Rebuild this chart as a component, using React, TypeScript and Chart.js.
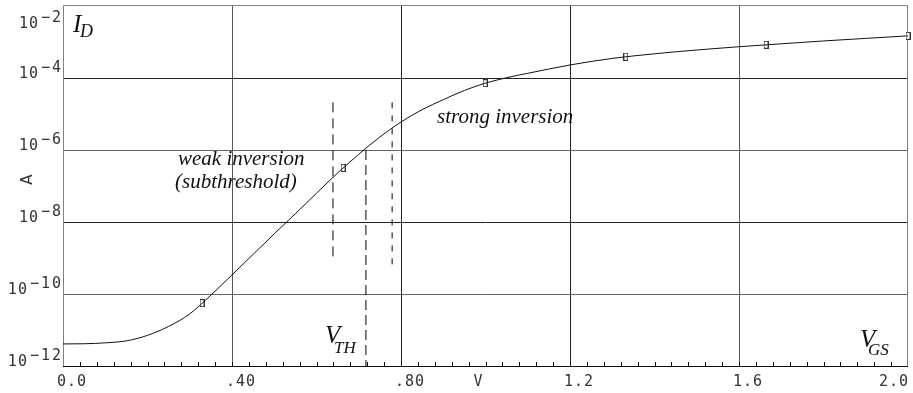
import React, { useEffect, useRef } from "react";
import Chart from "chart.js/auto";

// ---- data ----
const curveX = [0, 0.05, 0.1, 0.15, 0.2, 0.25, 0.3, 0.35, 0.4, 0.45, 0.5, 0.55, 0.6, 0.65, 0.7, 0.75, 0.8, 0.85, 0.9, 0.95, 1.0, 1.05, 1.1, 1.2, 1.3, 1.4, 1.5, 1.6, 1.7, 1.8, 1.9, 2.0];
const curveY = [4.1e-12, 4.15e-12, 4.4e-12, 5.0e-12, 7.1e-12, 1.26e-11, 2.8e-11, 9.3e-11, 3.4e-10, 1.26e-9, 4.7e-9, 1.7e-8, 6.3e-8, 2.3e-7, 7.6e-7, 2.3e-6, 6.0e-6, 1.32e-5, 2.5e-5, 4.5e-5, 7.2e-5, 1.02e-4, 1.35e-4, 2.3e-4, 3.5e-4, 4.7e-4, 6.0e-4, 7.4e-4, 8.9e-4, 1.07e-3, 1.26e-3, 1.48e-3];

const markerX = [0.329, 0.663, 0.999, 1.332, 1.664, 2.0];
const markerY = [5.6e-11, 3.2e-7, 7.2e-5, 3.9e-4, 8.4e-4, 1.48e-3];

const dashX = [0.639, 0.717, 0.779];
const dashTop = [2.1e-5, 1e-6, 2.1e-5];
const dashBottom = [7.8e-10, 1e-12, 5.2e-10];

const xGridValues = [0.4, 0.8, 1.2, 1.6];
const xLabelValues = [0, 0.4, 0.8, 1.0, 1.2, 1.6, 2.0];
const xLabels = ["0.0", ".40", ".80", "V", "1.2", "1.6", "2.0"];

const yGridValues = [1e-10, 1e-8, 1e-6, 1e-4];
const yLabelValues = [1e-12, 1e-10, 1e-8, 1e-6, 1e-4, 1e-2];
const yLabelExp = ["\u221212", "\u221210", "\u22128", "\u22126", "\u22124", "\u22122"];

const X_MIN = 0;
const X_MAX = 2.0;
const Y_MIN = 1e-12;
const Y_MAX = 1e-2;
const MINOR_STEP = 0.04;

function makeMarker(): HTMLCanvasElement {
  const c = document.createElement("canvas");
  c.width = 5;
  c.height = 8;
  const g = c.getContext("2d")!;
  g.fillStyle = "#fff";
  g.fillRect(0, 0, 5, 8);
  g.strokeStyle = "#333";
  g.lineWidth = 1;
  g.strokeRect(0.5, 0.5, 4, 7);
  return c;
}

const decorPlugin = {
  id: "decor",
  beforeDatasetsDraw(chart: any) {
    const { ctx, chartArea, scales } = chart;
    const { left, right, top, bottom } = chartArea;
    const xs = scales.x;
    const ys = scales.y;
    ctx.save();
    ctx.lineWidth = 1;
    xGridValues.forEach((v, i) => {
      const px = Math.round(xs.getPixelForValue(v)) + 0.5;
      ctx.strokeStyle = i % 3 === 0 ? "#555" : "#222";
      ctx.beginPath();
      ctx.moveTo(px, top);
      ctx.lineTo(px, bottom);
      ctx.stroke();
    });
    yGridValues.forEach((v, i) => {
      const py = Math.round(ys.getPixelForValue(v)) + 0.5;
      ctx.strokeStyle = i % 2 === 0 ? "#666" : "#222";
      ctx.beginPath();
      ctx.moveTo(left, py);
      ctx.lineTo(right, py);
      ctx.stroke();
    });
    ctx.strokeStyle = "#808080";
    ctx.beginPath();
    ctx.moveTo(Math.round(left) + 0.5, Math.round(bottom));
    ctx.lineTo(Math.round(left) + 0.5, Math.round(top) - 0.5);
    ctx.lineTo(Math.round(right) - 0.5, Math.round(top) - 0.5);
    ctx.lineTo(Math.round(right) - 0.5, Math.round(bottom));
    ctx.stroke();
    ctx.strokeStyle = "#111";
    ctx.beginPath();
    ctx.moveTo(left, Math.round(bottom) + 0.5);
    ctx.lineTo(right, Math.round(bottom) + 0.5);
    ctx.stroke();
    const n = Math.round((X_MAX - X_MIN) / MINOR_STEP);
    for (let i = 1; i < n; i++) {
      const px = Math.round(xs.getPixelForValue(X_MIN + i * MINOR_STEP)) + 0.5;
      ctx.beginPath();
      ctx.moveTo(px, Math.round(bottom));
      ctx.lineTo(px, Math.round(bottom) - 4);
      ctx.stroke();
    }
    ctx.restore();
  },
  afterDraw(chart: any) {
    const { ctx, chartArea, scales } = chart;
    const { left, right, top, bottom } = chartArea;
    const xs = scales.x;
    const ys = scales.y;
    ctx.save();
    ctx.fillStyle = "#333";
    ctx.font = '15px "DejaVu Sans Mono"';
    ctx.textBaseline = "alphabetic";
    yLabelValues.forEach((v, i) => {
      const py = ys.getPixelForValue(v);
      const base = Math.max(py, top + 22);
      const exp = yLabelExp[i];
      ctx.textAlign = "right";
      (ctx as any).letterSpacing = "2px";
      const ew = ctx.measureText(exp).width;
      ctx.fillText(exp, left, base - 6);
      (ctx as any).letterSpacing = "1px";
      ctx.fillText("10", left - ew - 2, base);
    });
    (ctx as any).letterSpacing = "1px";
    xLabels.forEach((lab, i) => {
      const px = xs.getPixelForValue(xLabelValues[i]);
      const w = ctx.measureText(lab).width;
      ctx.textAlign = "left";
      let lx = lab === "V" ? px - 12 : px - 6;
      if (lx + w > right + 1) lx = right + 1 - w;
      ctx.fillText(lab, lx, bottom + 20);
    });
    (ctx as any).letterSpacing = "0px";
    ctx.save();
    ctx.translate(28, ys.getPixelForValue(1.5e-7));
    ctx.rotate(-Math.PI / 2);
    ctx.textAlign = "center";
    ctx.textBaseline = "middle";
    ctx.font = '15px "DejaVu Sans"';
    ctx.fillText("A", 0, 0);
    ctx.restore();

    ctx.fillStyle = "#111";
    ctx.textAlign = "left";
    const serif = '"Liberation Serif", "Times New Roman", serif';
    ctx.font = `italic 25px ${serif}`;
    ctx.fillText("I", left + 10, top + 26);
    ctx.font = `italic 18px ${serif}`;
    ctx.fillText("D", left + 17, top + 31);
    ctx.font = `italic 25px ${serif}`;
    ctx.fillText("V", 325, 343);
    ctx.font = `italic 17px ${serif}`;
    ctx.fillText("TH", 334, 353);
    ctx.font = `italic 25px ${serif}`;
    ctx.fillText("V", 860, 347);
    ctx.font = `italic 17px ${serif}`;
    ctx.fillText("GS", 868, 355);
    ctx.font = `italic 21px ${serif}`;
    ctx.fillText("weak inversion", 178, 165);
    ctx.fillText("(subthreshold)", 175, 188);
    ctx.fillText("strong inversion", 437, 123);
    ctx.restore();
  },
};

export default function App() {
  const ref = useRef<HTMLCanvasElement | null>(null);
  useEffect(() => {
    if (!ref.current) return;
    const marker = makeMarker();
    const dashPatterns = [[10, 6], [10, 5], [6, 7]];
    const dashSets = dashX.map((x, i) => ({
      type: "line" as const,
      data: [
        { x, y: dashTop[i] },
        { x, y: dashBottom[i] },
      ],
      borderColor: "#000",
      borderWidth: 1,
      borderDash: dashPatterns[i],
      pointRadius: 0,
      fill: false,
    }));
    const chart = new Chart(ref.current, {
      type: "line",
      data: {
        datasets: [
          {
            data: curveX.map((x, i) => ({ x, y: curveY[i] })),
            borderColor: "#111",
            borderWidth: 1,
            pointRadius: 0,
            cubicInterpolationMode: "monotone",
            fill: false,
          },
          {
            data: markerX.map((x, i) => ({ x, y: markerY[i] })),
            showLine: false,
            pointStyle: marker,
            pointRadius: 4,
            clip: 6,
          } as any,
          ...dashSets,
        ],
      },
      options: {
        animation: false,
        responsive: false,
        devicePixelRatio: 1,
        layout: { padding: { left: 63, right: 5, top: 6, bottom: 27 } },
        plugins: { legend: { display: false }, tooltip: { enabled: false } },
        scales: {
          x: { type: "linear", min: X_MIN, max: X_MAX, display: false },
          y: { type: "logarithmic", min: Y_MIN, max: Y_MAX, display: false },
        },
      },
      plugins: [decorPlugin],
    });
    return () => chart.destroy();
  }, []);
  return (
    <div style={{ position: "fixed", left: 0, top: 0, width: 913, height: 393, background: "#fff" }}>
      <canvas ref={ref} width={913} height={393} style={{ display: "block" }} />
    </div>
  );
}
